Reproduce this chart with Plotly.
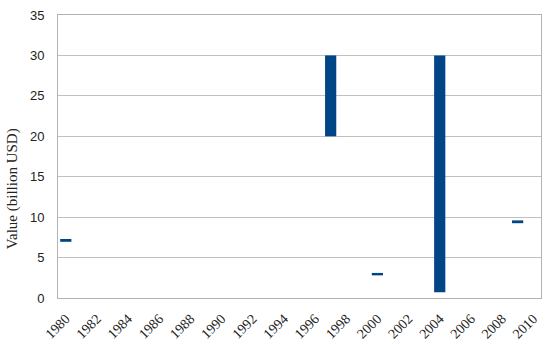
import plotly.graph_objects as go

years = [str(y) for y in range(1980, 2011)]
bar_years = ["1980", "1997", "2000", "2004", "2009"]
low_values = [6.95, 20.0, 2.8, 0.7, 9.25]
high_values = [7.3, 30.0, 3.1, 30.0, 9.6]
tick_labels = [str(y) for y in range(1980, 2011, 2)]
y_ticks = [0, 5, 10, 15, 20, 25, 30, 35]
y_title = "Value (billion USD)"

fig = go.Figure()
fig.add_trace(go.Bar(
    x=bar_years,
    y=[h - l for h, l in zip(high_values, low_values)],
    base=low_values,
    marker=dict(color="#004586", line=dict(width=0)),
    width=0.72,
    showlegend=False,
    hoverinfo="skip",
))

serif = "Liberation Serif"
sans = "Liberation Sans"
fig.update_layout(
    width=550, height=344,
    margin=dict(l=58, r=9, t=15, b=46),
    paper_bgcolor="white", plot_bgcolor="white",
    font=dict(family=serif, size=13, color="#222"),
    xaxis=dict(
        type="category", categoryorder="array", categoryarray=years,
        range=[-0.5, len(years) - 0.5], automargin=False,
        tickmode="array", tickvals=tick_labels, ticktext=tick_labels,
        tickangle=-45, showgrid=False, showline=True, linecolor="#b3b3b3",
        mirror=True, ticks="", ticklabelstandoff=6,
        tickfont=dict(family=serif, size=14, color="#222"),
    ),
    yaxis=dict(
        range=[0, 35], tickvals=y_ticks, showgrid=True, gridcolor="#c0c0c0",
        showline=True, linecolor="#b3b3b3", mirror=True, zeroline=False,
        ticks="", ticklabelstandoff=10, automargin=False,
        tickfont=dict(family=sans, size=13, color="#222"),
    ),
    annotations=[dict(
        text=y_title, textangle=-90, showarrow=False,
        xref="paper", yref="paper", x=-0.095, y=0.385,
        xanchor="center", yanchor="middle",
        font=dict(family=serif, size=15, color="#222"),
    )],
)
fig.write_html("out.html", config={"displayModeBar": False},
               post_script="document.body.style.margin='0';")
